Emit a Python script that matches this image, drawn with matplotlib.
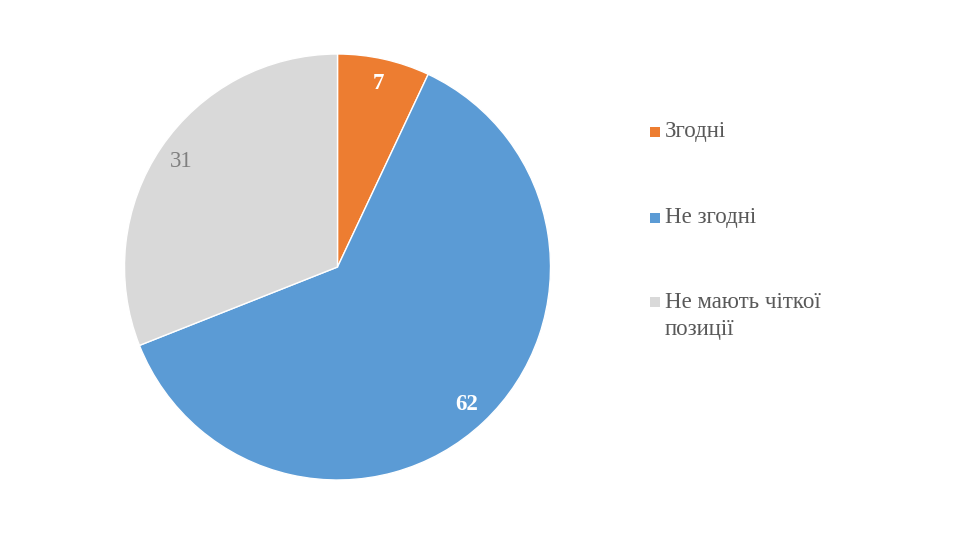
import matplotlib.pyplot as plt
from matplotlib.patches import Rectangle

# data
labels = ['Згодні', 'Не згодні', 'Не мають чіткої\nпозиції']
values = [7, 62, 31]
colors = ['#ED7D31', '#5B9BD5', '#D9D9D9']
label_colors = ['white', 'white', '#7F7F7F']
label_weights = ['bold', 'bold', 'normal']

plt.rcParams['font.family'] = ['Liberation Serif', 'DejaVu Serif']

W, H = 974, 540
fig = plt.figure(figsize=(W / 100, H / 100), dpi=100)
ax = fig.add_axes([0, 0, 1, 1])

wedges, texts, autotexts = ax.pie(
    values, colors=colors, startangle=90, counterclock=False,
    center=(337.5, H - 267), radius=213, frame=True,
    autopct=lambda p: '{:.0f}'.format(p), pctdistance=0.885,
    wedgeprops=dict(edgecolor='white', linewidth=1))
ax.set_xlim(0, W)
ax.set_ylim(0, H)
ax.set_aspect('equal')
ax.axis('off')

for t, c, w in zip(autotexts, label_colors, label_weights):
    t.set_color(c)
    t.set_fontweight(w)
    t.set_fontsize(16.5)

# legend drawn by hand, Excel style (square + text, one row per line)
box_y = [131.5, 217.5, 301.5]
for lab, col, y in zip(labels, colors, box_y):
    ax.add_patch(Rectangle((649.5, H - y - 5), 10, 10, facecolor=col, edgecolor='none'))
    for i, line in enumerate(lab.split('\n')):
        ax.text(665, H - (y + 6 + 28 * i), line, fontsize=16.5, color='#595959',
                va='baseline', ha='left')

fig.savefig('out.png', dpi=100, facecolor='white')
